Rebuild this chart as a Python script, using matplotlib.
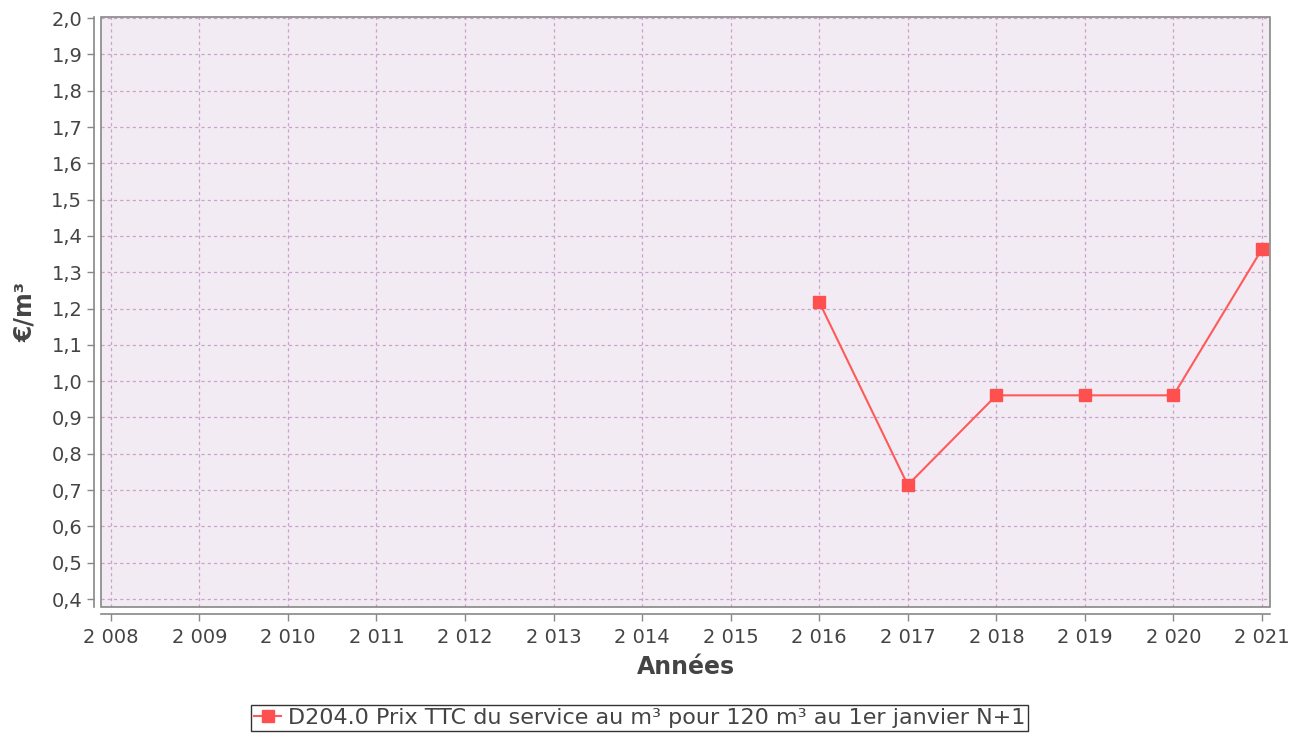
import matplotlib
matplotlib.use('Agg')
import matplotlib.pyplot as plt
from matplotlib.patches import Rectangle
from matplotlib.ticker import FixedLocator, FuncFormatter

years = [2016, 2017, 2018, 2019, 2020, 2021]
prix = [1.218, 0.714, 0.961, 0.961, 0.961, 1.364]
xticks = list(range(2008, 2022))
yticks = [round(0.4 + 0.1 * i, 1) for i in range(17)]
serie_label = "D204.0 Prix TTC du service au m³ pour 120 m³ au 1er janvier N+1"

plt.rcParams['font.family'] = ['DejaVu Sans']

fig = plt.figure(figsize=(13.06, 7.41), dpi=100)
ax = fig.add_axes([101 / 1306, 1 - 607 / 741, (1270 - 101) / 1306, (607 - 17) / 741])
ax.set_facecolor('#f3ebf3')

ax.plot(years, prix, color='#ff5a5a', lw=1.5, marker='s', ms=9,
        markerfacecolor='#ff5050', markeredgecolor='#ff5050', label=serie_label, zorder=3)

ax.set_xlim(2007.89, 2021.09)
ax.set_ylim(0.378, 2.003)
ax.xaxis.set_major_locator(FixedLocator(xticks))
ax.yaxis.set_major_locator(FixedLocator(yticks))
ax.xaxis.set_major_formatter(FuncFormatter(lambda v, p: f"{int(v):,}".replace(",", " ")))
ax.yaxis.set_major_formatter(FuncFormatter(lambda v, p: f"{v:.1f}".replace(".", ",")))

ax.grid(True, color='#c9a3c9', linestyle=(0, (2.5, 2.5)), lw=0.9)

# plot outline + offset axis lines like the original
for s in ['top', 'right']:
    ax.spines[s].set_visible(False)
ax.add_patch(Rectangle((0, 0), 1, 1, transform=ax.transAxes, fill=False,
                       edgecolor='#888888', lw=1.2, zorder=4, clip_on=False))
for s in ['left', 'bottom']:
    ax.spines[s].set_position(('outward', 5))
    ax.spines[s].set_color('#888888')
    ax.spines[s].set_linewidth(1.2)

ax.tick_params(colors='#888888', labelcolor='#444444', labelsize=14, length=5, width=1)
ax.tick_params(axis='x', pad=5)

ax.set_xlabel("Années", fontsize=17, fontweight='bold', color='#444444', labelpad=6)
ax.set_ylabel("€/m³", fontsize=17, fontweight='bold', color='#444444', labelpad=10)

leg = fig.legend(loc='lower center', bbox_to_anchor=(0.4897, -0.002), fontsize=16,
                 frameon=True, fancybox=False, edgecolor='black', handlelength=1.2,
                 handletextpad=0.3, borderpad=0.15, markerscale=0.9)
leg.get_frame().set_linewidth(1.0)
for t in leg.get_texts():
    t.set_color('#444444')

fig.savefig('out.png', dpi=100)
